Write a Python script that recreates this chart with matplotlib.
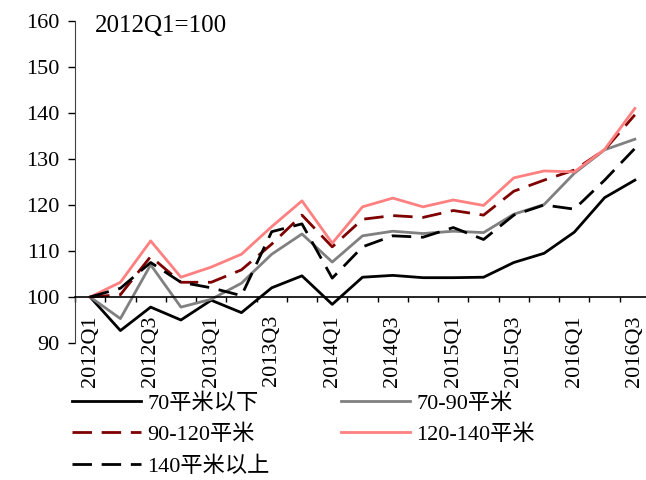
import numpy as np
import matplotlib
matplotlib.use("Agg")
import matplotlib.pyplot as plt

plt.rcParams['font.family'] = ['Liberation Serif', 'Noto Sans CJK SC']
plt.rcParams['font.size'] = 16

# quarters 2012Q1 .. 2016Q3
quarters = [f"{y}Q{q}" for y in range(2012, 2017) for q in range(1, 5)][:19]
tick_labels = [q if i % 2 == 0 else "" for i, q in enumerate(quarters)]

below70 = [100, 92.7, 97.8, 95.0, 99.3, 96.6, 102.0, 104.6, 98.4, 104.3,
           104.7, 104.2, 104.2, 104.3, 107.5, 109.5, 114.1, 121.6, 125.4]
s70_90 = [100, 95.3, 107.0, 97.8, 99.5, 103.0, 109.3, 113.7, 107.6, 113.3,
          114.3, 113.8, 114.3, 114.0, 118.0, 120.1, 126.9, 132.0, 134.3]
s90_120 = [100, 100.5, 108.8, 103.2, 103.2, 105.9, 111.5, 117.8, 110.9, 116.9,
           117.7, 117.3, 118.8, 117.8, 123.0, 125.4, 127.6, 132.0, 139.6]
s120_140 = [100, 103.2, 112.2, 104.3, 106.5, 109.3, 115.3, 120.9, 111.7, 119.6,
            121.5, 119.6, 121.1, 119.9, 125.9, 127.4, 127.2, 132.1, 141.0]
above140 = [100, 101.9, 107.5, 103.2, 102.0, 100.3, 114.2, 115.9, 104.1, 110.9,
            113.3, 113.0, 115.1, 112.5, 117.8, 120.0, 119.1, 125.4, 132.3]

fig = plt.figure(figsize=(6.46, 4.8), dpi=100)
ax = fig.add_axes([75/646, 1 - 343/480, 575/646, 322/480])

x = np.arange(len(quarters))
lw = 2.0
dash = (7, 3.5)
l1, = ax.plot(x, below70, color='black', lw=lw, label='70平米以下')
l2, = ax.plot(x, s70_90, color='#808080', lw=lw, label='70-90平米')
l3, = ax.plot(x, s90_120, color='#7f0000', lw=lw, dashes=dash, label='90-120平米')
l4, = ax.plot(x, s120_140, color='#ff8080', lw=lw, label='120-140平米')
l5, = ax.plot(x, above140, color='black', lw=lw, dashes=dash, label='140平米以上')

ax.set_xlim(-0.5, len(quarters) - 0.5)
ax.set_ylim(90, 160)
ax.set_yticks(range(90, 161, 10))
ax.tick_params(axis='y', direction='out', length=5, width=1, pad=6, colors='black')

for s in ['top', 'right']:
    ax.spines[s].set_visible(False)
ax.spines['left'].set_color('#404040')
ax.spines['bottom'].set_position(('data', 100))
ax.spines['bottom'].set_linewidth(1.2)

ax.set_xticks(x)
ax.set_xticklabels(tick_labels, rotation=90, va='top', ha='center')
ax.set_xticks(np.arange(-0.5, len(quarters), 1), minor=True)
ax.tick_params(axis='x', which='major', length=0, pad=13)
ax.tick_params(axis='x', which='minor', direction='out', length=3.6, width=1)

ax.text(0.035, 1 + 6/322, '2012Q1=100', transform=ax.transAxes,
        ha='left', va='top', fontsize=18)

fig.legend(handles=[l1, l3, l5, l2, l4], ncol=2, loc='upper left',
           bbox_to_anchor=(72/646, 1 - 393/480), frameon=False,
           handlelength=3.1, handletextpad=0.3, columnspacing=3.2,
           labelspacing=0.5, borderaxespad=0, borderpad=0)

fig.savefig('out.png', dpi=100)
